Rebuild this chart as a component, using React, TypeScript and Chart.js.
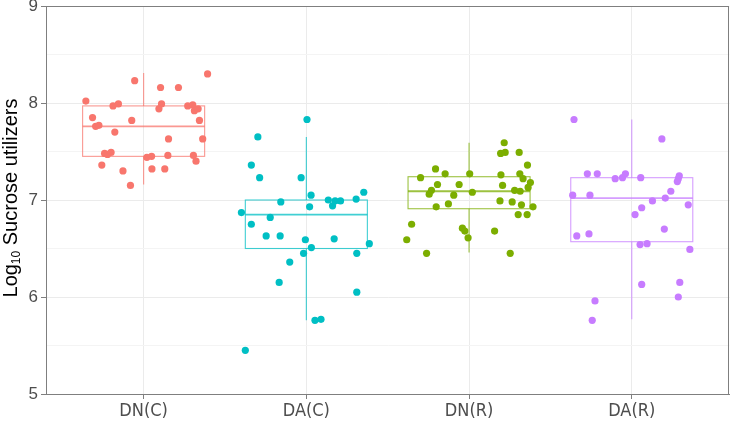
import React, { useEffect, useRef } from "react";
import { Chart, registerables } from "chart.js";
Chart.register(...registerables);

const categories = ["DN(C)", "DA(C)", "DN(R)", "DA(R)"];
const colors = ["#F8766D", "#00BFC4", "#7CAE00", "#C77CFF"];
const boxColors = ["rgba(248,118,109,0.75)", "rgba(0,191,196,0.75)", "rgba(124,174,0,0.75)", "rgba(199,124,255,0.75)"];
const yTickValues = [5, 5.5, 6, 6.5, 7, 7.5, 8, 8.5, 9];
const yTitleMain = "Log";
const yTitleSub = "10";
const yTitleRest = " Sucrose utilizers";

// box statistics per category
const boxLower = [7.16, 5.76, 6.46, 5.77];
const boxQ1 = [7.45, 6.5, 6.91, 6.57];
const boxMedian = [7.76, 6.85, 7.09, 7.02];
const boxQ3 = [7.97, 7.0, 7.24, 7.23];
const boxUpper = [8.31, 7.65, 7.59, 7.83];

// jittered points: x = category position (1..4) + jitter, y = value
const dnC_x = [1.393, 0.945, 1.104, 1.214, 0.645, 0.812, 0.845, 1.11, 1.094, 1.271, 1.302, 1.312, 1.335, 0.686, 0.705, 0.725, 0.927, 1.343, 0.823, 1.153, 1.363, 0.76, 0.778, 0.8, 1.02, 1.049, 1.149, 1.306, 1.322, 0.743, 0.873, 1.051, 1.13, 0.919];
const dnC_y = [8.3, 8.23, 8.16, 8.16, 8.02, 7.97, 7.99, 7.99, 7.94, 7.97, 7.98, 7.92, 7.94, 7.85, 7.76, 7.77, 7.82, 7.82, 7.7, 7.63, 7.63, 7.48, 7.47, 7.49, 7.44, 7.45, 7.46, 7.46, 7.4, 7.36, 7.3, 7.32, 7.32, 7.15];

const daC_x = [2.004, 1.702, 1.662, 1.713, 1.968, 2.029, 2.353, 1.843, 2.135, 2.177, 2.21, 2.161, 2.306, 2.02, 1.601, 1.778, 1.662, 1.753, 1.839, 1.994, 2.171, 2.387, 2.031, 1.983, 2.31, 1.898, 1.833, 2.31, 2.053, 2.09, 1.625];
const daC_y = [7.83, 7.65, 7.36, 7.23, 7.23, 7.05, 7.08, 6.98, 7.0, 6.99, 6.99, 6.94, 7.01, 6.93, 6.87, 6.82, 6.75, 6.63, 6.63, 6.59, 6.6, 6.55, 6.51, 6.45, 6.45, 6.36, 6.15, 6.05, 5.76, 5.77, 5.45];

const dnR_x = [3.216, 3.194, 3.222, 3.308, 2.794, 3.359, 2.702, 2.853, 3.004, 3.196, 3.312, 3.332, 2.806, 2.939, 3.206, 3.377, 3.363, 2.769, 2.755, 2.906, 3.02, 3.28, 3.314, 3.19, 3.265, 2.873, 2.798, 3.322, 3.393, 3.302, 3.357, 2.647, 2.959, 2.974, 2.994, 3.157, 2.617, 2.739, 3.253];
const dnR_y = [7.59, 7.48, 7.49, 7.49, 7.32, 7.36, 7.23, 7.27, 7.27, 7.26, 7.27, 7.22, 7.16, 7.16, 7.15, 7.18, 7.13, 7.1, 7.06, 7.05, 7.08, 7.1, 7.09, 6.99, 6.98, 6.96, 6.93, 6.95, 6.93, 6.85, 6.85, 6.75, 6.71, 6.68, 6.61, 6.68, 6.59, 6.45, 6.45];

const daR_x = [3.645, 4.185, 3.727, 3.788, 3.898, 3.943, 3.961, 4.055, 4.292, 4.286, 4.28, 3.637, 3.743, 4.24, 4.206, 4.127, 4.061, 4.347, 4.02, 4.2, 3.662, 3.737, 4.051, 4.094, 4.357, 4.061, 4.295, 4.286, 3.774, 3.757];
const daR_y = [7.83, 7.63, 7.27, 7.27, 7.22, 7.23, 7.27, 7.23, 7.25, 7.22, 7.19, 7.05, 7.05, 7.09, 7.02, 6.99, 6.92, 6.95, 6.85, 6.7, 6.63, 6.65, 6.54, 6.55, 6.49, 6.13, 6.15, 6.0, 5.96, 5.76];

const seriesX = [dnC_x, daC_x, dnR_x, daR_x];
const seriesY = [dnC_y, daC_y, dnR_y, daR_y];

const BOX_HALF = 0.375;

const boxPlugin = {
  id: "boxes",
  beforeDatasetsDraw(chart: any) {
    const { ctx, scales } = chart;
    const xs = scales.x;
    const ys = scales.y;
    ctx.save();
    for (let i = 0; i < categories.length; i++) {
      const cx = xs.getPixelForValue(i + 1);
      const left = xs.getPixelForValue(i + 1 - BOX_HALF);
      const right = xs.getPixelForValue(i + 1 + BOX_HALF);
      const q1 = ys.getPixelForValue(boxQ1[i]);
      const q3 = ys.getPixelForValue(boxQ3[i]);
      const med = ys.getPixelForValue(boxMedian[i]);
      const lo = ys.getPixelForValue(boxLower[i]);
      const hi = ys.getPixelForValue(boxUpper[i]);
      ctx.strokeStyle = boxColors[i];
      ctx.lineWidth = 1.1;
      ctx.beginPath();
      ctx.moveTo(cx, q3);
      ctx.lineTo(cx, hi);
      ctx.moveTo(cx, q1);
      ctx.lineTo(cx, lo);
      ctx.stroke();
      ctx.strokeRect(left, q3, right - left, q1 - q3);
      ctx.lineWidth = 1.8;
      ctx.beginPath();
      ctx.moveTo(left, med);
      ctx.lineTo(right, med);
      ctx.stroke();
    }
    ctx.restore();
  },
};

const framePlugin = {
  id: "frame",
  afterDraw(chart: any) {
    const { ctx, chartArea } = chart;
    ctx.save();
    ctx.strokeStyle = "#7f7f7f";
    ctx.lineWidth = 1;
    ctx.strokeRect(
      Math.round(chartArea.left) + 0.5,
      Math.round(chartArea.top) + 0.5,
      Math.round(chartArea.right - chartArea.left) - 1,
      Math.round(chartArea.bottom - chartArea.top)
    );
    // y-axis title with subscript
    const cy = (chartArea.top + chartArea.bottom) / 2 - 2;
    ctx.translate(11, cy);
    ctx.rotate(-Math.PI / 2);
    ctx.fillStyle = "#000000";
    ctx.textBaseline = "middle";
    ctx.textAlign = "left";
    const mainFont = "20px 'Liberation Sans', Arial, sans-serif";
    const subFont = "12px 'Liberation Sans', Arial, sans-serif";
    ctx.font = mainFont;
    const w1 = ctx.measureText(yTitleMain).width;
    const w3 = ctx.measureText(yTitleRest).width;
    ctx.font = subFont;
    const w2 = ctx.measureText(yTitleSub).width;
    let x0 = -(w1 + w2 + w3) / 2;
    ctx.font = mainFont;
    ctx.fillText(yTitleMain, x0, 0);
    x0 += w1;
    ctx.font = subFont;
    ctx.fillText(yTitleSub, x0, 6);
    x0 += w2;
    ctx.font = mainFont;
    ctx.fillText(yTitleRest, x0, 0);
    ctx.restore();
  },
};

export default function App() {
  const ref = useRef<HTMLCanvasElement | null>(null);
  useEffect(() => {
    document.body.style.margin = "0";
    if (!ref.current) return;
    const datasets = categories.map((name, i) => ({
      label: name,
      data: seriesX[i].map((x, j) => ({ x, y: seriesY[i][j] })),
      backgroundColor: colors[i],
      borderWidth: 0,
      pointRadius: 3.6,
      pointHoverRadius: 3.6,
    }));
    const chart = new Chart(ref.current, {
      type: "scatter",
      data: { datasets },
      plugins: [boxPlugin, framePlugin],
      options: {
        animation: false,
        responsive: false,
        events: [],
        layout: { padding: { top: 6, right: 2, left: 0, bottom: 0 } },
        plugins: { legend: { display: false }, tooltip: { enabled: false } },
        scales: {
          x: {
            type: "linear",
            min: 0.4,
            max: 4.6,
            afterBuildTicks: (scale: any) => {
              scale.ticks = categories.map((_, i) => ({ value: i + 1 }));
            },
            afterFit: (scale: any) => {
              scale.height = 29;
              scale.paddingLeft = 0;
              scale.paddingRight = 0;
            },
            ticks: {
              autoSkip: false,
              maxRotation: 0,
              padding: 2,
              color: "#4d4d4d",
              font: { family: "'Liberation Sans Narrow', 'DejaVu Sans Condensed', 'Liberation Sans', Arial, sans-serif", size: 18 },
              callback: (v: any) => categories[Math.round(Number(v)) - 1] ?? "",
            },
            grid: { color: "#ebebeb", lineWidth: 1, tickLength: 5, tickColor: "#7f7f7f" },
            border: { display: true, color: "#7f7f7f", width: 1 },
          },
          y: {
            type: "linear",
            min: 5,
            max: 9,
            afterBuildTicks: (scale: any) => {
              scale.ticks = yTickValues.map((v) => ({ value: v }));
            },
            afterFit: (scale: any) => {
              scale.width = 46;
              scale.paddingTop = 0;
              scale.paddingBottom = 0;
            },
            ticks: {
              autoSkip: false,
              padding: 3,
              color: "#4d4d4d",
              font: { family: "'Liberation Sans', Arial, sans-serif", size: 17 },
              callback: (v: any) => (Number.isInteger(Number(v)) ? String(v) : ""),
            },
            grid: {
              lineWidth: 1,
              tickLength: 5,
              color: (c: any) => (c.tick && Number.isInteger(c.tick.value) ? "#ebebeb" : "#f4f4f4"),
              tickColor: (c: any) => (c.tick && Number.isInteger(c.tick.value) ? "#7f7f7f" : "rgba(0,0,0,0)"),
            },
            border: { display: true, color: "#7f7f7f", width: 1 },
          },
        },
      },
    });
    return () => chart.destroy();
  }, []);
  return (
    <div style={{ width: 733, height: 423, background: "#ffffff" }}>
      <canvas ref={ref} width={733} height={423} style={{ display: "block" }} />
    </div>
  );
}
